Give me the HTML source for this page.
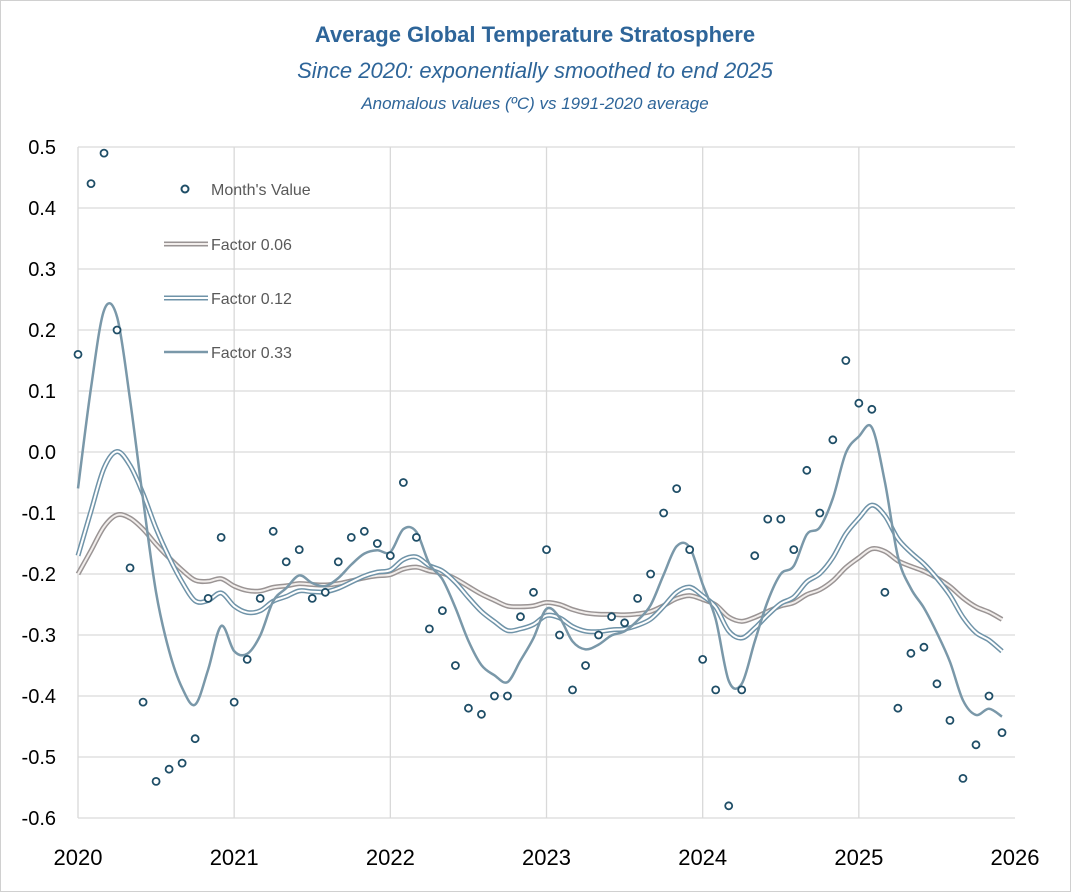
<!DOCTYPE html>
<html><head><meta charset="utf-8"><style>
body{margin:0;background:#fff}
svg{display:block;font-family:"Liberation Sans",sans-serif}
</style></head><body>
<svg id="s" width="1071" height="892" xmlns="http://www.w3.org/2000/svg">
<rect x="0.5" y="0.5" width="1070" height="891" fill="#fff" stroke="#d0d0d0"/>
<text x="535" y="42" text-anchor="middle" font-size="22" font-weight="bold" fill="#2e6599">Average Global Temperature Stratosphere</text>
<text x="535" y="78" text-anchor="middle" font-size="22" font-style="italic" fill="#2e6599">Since 2020: exponentially smoothed to end 2025</text>
<text x="535" y="109" text-anchor="middle" font-size="17" font-style="italic" fill="#2e6599">Anomalous values (ºC) vs 1991-2020 average</text>
<g id="grid"></g><g id="lines"></g><g id="dots"></g>
<g font-size="16" fill="#595959">
<circle cx="185" cy="189" r="3.5" fill="#fff" stroke="#1f4e67" stroke-width="2"/>
<text x="211" y="195">Month's Value</text>
<line x1="164" y1="244" x2="208" y2="244" stroke="#9a9494" stroke-width="5"/><line x1="164" y1="244" x2="208" y2="244" stroke="#f2eeec" stroke-width="2"/>
<text x="211" y="250">Factor 0.06</text>
<line x1="164" y1="298" x2="208" y2="298" stroke="#6f93a8" stroke-width="5"/><line x1="164" y1="298" x2="208" y2="298" stroke="#fff" stroke-width="2"/>
<text x="211" y="304">Factor 0.12</text>
<line x1="164" y1="352" x2="208" y2="352" stroke="#7a98a9" stroke-width="2.5"/>
<text x="211" y="358">Factor 0.33</text>
</g>
</svg>
<script>
const NS="http://www.w3.org/2000/svg";
const X0=78,YW=156.17,Y0=452,S=610;
const xm=m=>X0+m*YW/12, yv=v=>Y0-v*S;
function el(p,t,a){const e=document.createElementNS(NS,t);for(const k in a)e.setAttribute(k,a[k]);p.appendChild(e);if(a.text!==undefined)e.textContent=a.text;return e;}
const g=document.getElementById('grid');
for(let i=-6;i<=5;i++){const y=yv(i/10);el(g,'line',{x1:X0,x2:1015,y1:y,y2:y,stroke:'#d9d9d9','stroke-width':1.3});
el(g,'text',{x:56,y:y+7,'text-anchor':'end','font-size':20,fill:'#000',text:(i/10).toFixed(1)});}
for(let j=0;j<=6;j++){const x=X0+j*YW;if(j<6)el(g,'line',{x1:x,x2:x,y1:yv(0.5),y2:yv(-0.6),stroke:'#d9d9d9','stroke-width':1.3});
el(g,'text',{x:x,y:865,'text-anchor':'middle','font-size':22,fill:'#000',text:2020+j});}
const d=[0.16,0.44,0.49,0.20,-0.19,-0.41,-0.54,-0.52,-0.51,-0.47,-0.24,-0.14,
-0.41,-0.34,-0.24,-0.13,-0.18,-0.16,-0.24,-0.23,-0.18,-0.14,-0.13,-0.15,
-0.17,-0.05,-0.14,-0.29,-0.26,-0.35,-0.42,-0.43,-0.40,-0.40,-0.27,-0.23,
-0.16,-0.30,-0.39,-0.35,-0.30,-0.27,-0.28,-0.24,-0.20,-0.10,-0.06,-0.16,
-0.34,-0.39,-0.58,-0.39,-0.17,-0.11,-0.11,-0.16,-0.03,-0.10,0.02,0.15,
0.08,0.07,-0.23,-0.42,-0.33,-0.32,-0.38,-0.44,-0.535,-0.48,-0.40,-0.46];
function smooth(a,p){const r=[];let s=p;for(const v of d){s=s+a*(v-s);r.push(s);}return r;}
function path(vals){const P=vals.map((v,i)=>[xm(i),yv(v)]);let s=`M${P[0][0]},${P[0][1]}`;
for(let i=0;i<P.length-1;i++){const p0=P[i-1]||P[i],p1=P[i],p2=P[i+1],p3=P[i+2]||p2;
const c1=[p1[0]+(p2[0]-p0[0])/6,p1[1]+(p2[1]-p0[1])/6],c2=[p2[0]-(p3[0]-p1[0])/6,p2[1]-(p3[1]-p1[1])/6];
s+=`C${c1[0]},${c1[1]} ${c2[0]},${c2[1]} ${p2[0]},${p2[1]}`;}return s;}
const L=document.getElementById('lines');
const p06=path(smooth(0.06,-0.223)),p12=path(smooth(0.12,-0.215)),p33=path(smooth(0.33,-0.168));
el(L,'path',{d:p06,fill:'none',stroke:'#9a9494','stroke-width':5});
el(L,'path',{d:p06,fill:'none',stroke:'#f2eeec','stroke-width':2});
el(L,'path',{d:p12,fill:'none',stroke:'#6f93a8','stroke-width':5});
el(L,'path',{d:p12,fill:'none',stroke:'#fff','stroke-width':2});
el(L,'path',{d:p33,fill:'none',stroke:'#7a98a9','stroke-width':2.5});
const D=document.getElementById('dots');
d.forEach((v,i)=>el(D,'circle',{cx:xm(i),cy:yv(v),r:3.5,fill:'#fff',stroke:'#1f4e67','stroke-width':1.8}));
</script>
</body></html>
